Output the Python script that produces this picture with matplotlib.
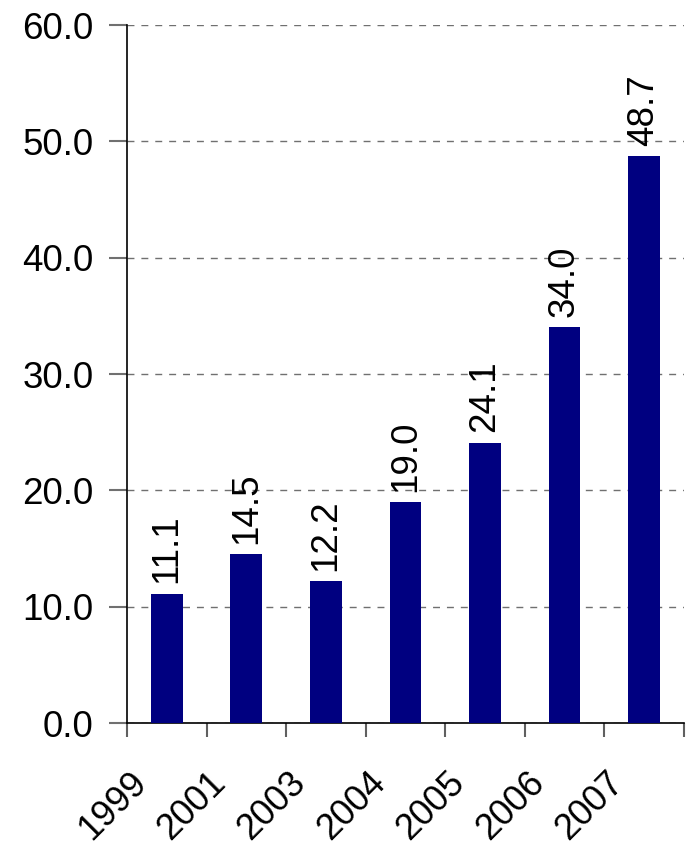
import matplotlib
matplotlib.use("Agg")
import matplotlib.pyplot as plt
import matplotlib.transforms as mtransforms
import numpy as np

years = ["1999", "2001", "2003", "2004", "2005", "2006", "2007"]
values = [11.1, 14.5, 12.2, 19.0, 24.1, 34.0, 48.7]
yticks = [0, 10, 20, 30, 40, 50, 60]

plt.rcParams['font.family'] = ['Liberation Sans', 'DejaVu Sans']

fig = plt.figure(figsize=(6.88, 8.48), dpi=100)
ax = fig.add_axes([0.1846, 0.1474, 0.8094, 0.8231])

x = np.arange(len(years))
ax.bar(x, values, width=0.4, color='#000080', zorder=3)
ax.set_xlim(-0.5, len(years) - 0.5)
ax.set_ylim(0, 60)

for xi, v in zip(x, values):
    ax.text(xi, v + 0.9, f"{v:.1f}", rotation=90, ha='center', va='bottom',
            fontsize=26.5, zorder=4)

ax.set_yticks(yticks)
ax.set_yticklabels([f"{t:.1f}" for t in yticks], fontsize=26.5)
ax.yaxis.grid(True, linestyle=(0, (5, 5)), color='#707070', linewidth=1)
ax.set_axisbelow(True)

ax.set_xticks(x)
ax.set_xticklabels(years, fontsize=26, rotation=45, ha='right', rotation_mode='anchor')
ax.set_xticks(np.arange(len(years) + 1) - 0.5, minor=True)
ax.tick_params(axis='x', which='major', length=0, pad=30)
ax.tick_params(axis='x', which='minor', length=10, color='#606060', width=1.5, direction='out')
ax.tick_params(axis='y', length=13, color='#707070', width=1.5, pad=11)

offset = mtransforms.ScaledTranslation(-0.38, 0, fig.dpi_scale_trans)
for lab in ax.get_xticklabels():
    lab.set_transform(lab.get_transform() + offset)

for s in ['top', 'right']:
    ax.spines[s].set_visible(False)
ax.spines['left'].set_color('black')
ax.spines['bottom'].set_color('black')
ax.spines['left'].set_linewidth(1.2)
ax.spines['bottom'].set_linewidth(1.2)

fig.savefig("out.png", dpi=100)
